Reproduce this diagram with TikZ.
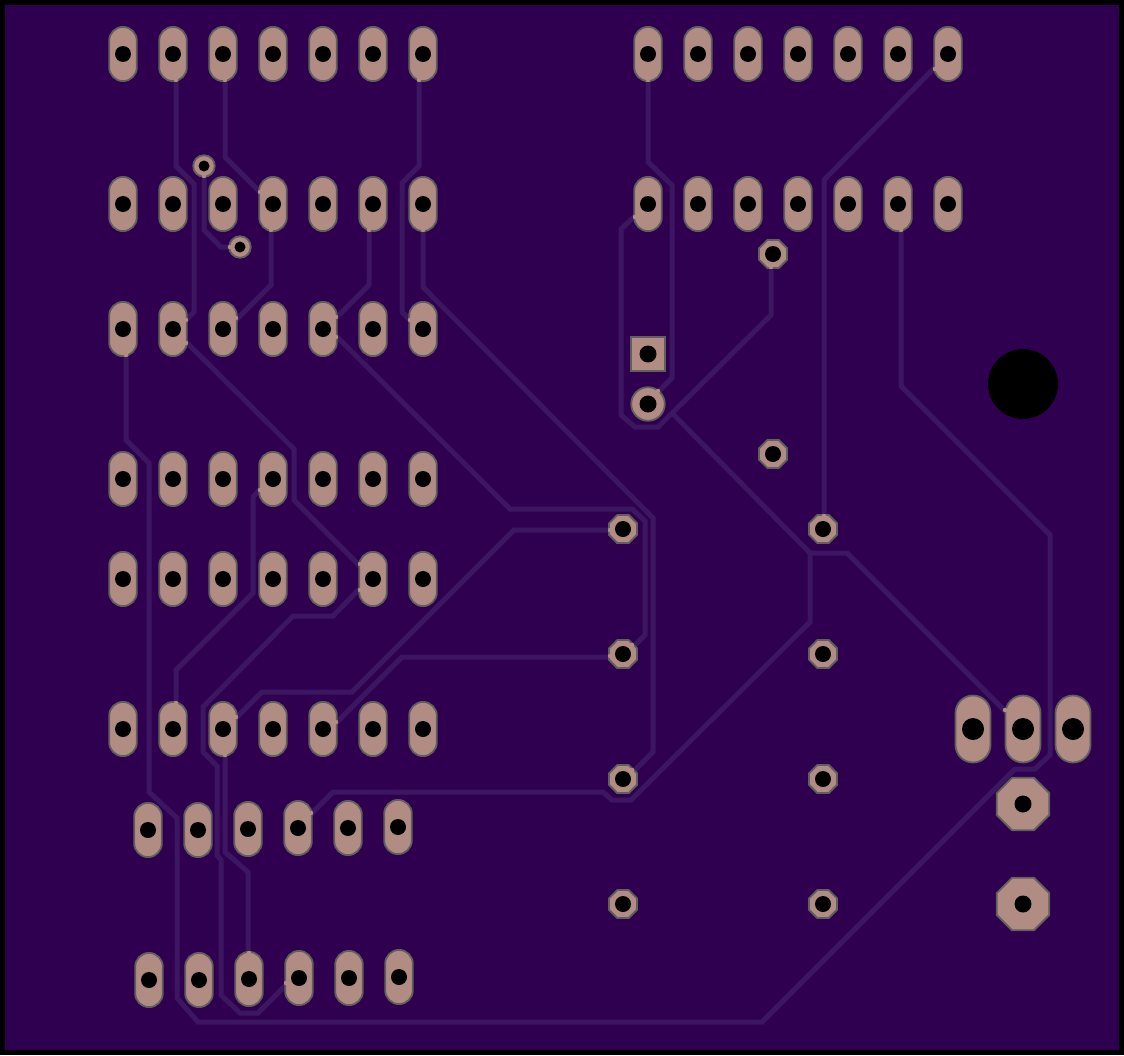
\documentclass[tikz,border=0pt]{standalone}
\usetikzlibrary{shapes.geometric}
\definecolor{boardbg}{HTML}{2F004F}
\definecolor{tracecol}{HTML}{3C1660}
\definecolor{padcol}{HTML}{B18C83}
\definecolor{padedge}{HTML}{615F5C}
\tikzset{
  trace/.style={draw=tracecol,line width=5pt,line join=miter,line cap=round},
  padbase/.style={draw=padedge,fill=padcol,line width=1.8pt,inner sep=0pt,outer sep=0pt},
  oblong/.style={padbase,rectangle,minimum width=27.6pt,minimum height=54.2pt,rounded corners=13.8pt},
  bigoblong/.style={padbase,rectangle,minimum width=35pt,minimum height=67pt,rounded corners=17.5pt},
  octvia/.style={padbase,regular polygon,regular polygon sides=8,minimum size=30.2pt},
  bigoct/.style={padbase,regular polygon,regular polygon sides=8,minimum size=57pt},
  roundvia/.style={padbase,circle,minimum size=21.5pt},
  roundpad/.style={padbase,circle,minimum size=33.5pt},
  squarepad/.style={padbase,rectangle,minimum size=33.5pt},
  hole/.style={fill=black,draw=none,circle,inner sep=0pt,minimum size=#1}
}
\newcommand{\mypad}[4]{%
  \node[#1] (#2) at (#3) {};
  \node[hole=#4] at (#2.center) {};}
\begin{document}
\begin{tikzpicture}[x=1pt,y=-1pt]
\useasboundingbox (0,0) rectangle (1124,1055);
\fill[boardbg] (0,0) rectangle (1124,1055);

% traces
\draw[trace] (176,54) -- (176,166) -- (194,184) -- (194,312) -- (173,333);
\draw[trace] (225,54) -- (225,157) -- (273,205);
\draw[trace] (204,166) -- (204,230) -- (221,247) -- (240,247);
\draw[trace] (271,204) -- (271,285) -- (223,333);
\draw[trace] (369,204) -- (369,285) -- (323,331);
\draw[trace] (419,54) -- (419,166) -- (402,183) -- (402,312) -- (419,329);
\draw[trace] (423,204) -- (423,287) -- (653,518) -- (653,752) -- (623,782);
\draw[trace] (323,323) -- (510,509) -- (632,509) -- (645,521) -- (645,635) -- (623,657);
\draw[trace] (173,329) -- (294,449) -- (294,500) -- (373,579);
\draw[trace] (126,329) -- (126,440) -- (149,463) -- (149,792) -- (177,818) -- (177,998) -- (198,1022) -- (762,1022) -- (1015,769) -- (1035,769) -- (1050,755) -- (1050,535) -- (901,386) -- (901,204);
\draw[trace] (273,475) -- (253,497) -- (253,593) -- (176,670) -- (176,729);
\draw[trace] (373,575) -- (333,616) -- (293,616) -- (203,707) -- (203,752) -- (217,766) -- (217,855) -- (221,860) -- (221,995) -- (240,1013) -- (258,1013) -- (299,972);
\draw[trace] (225,729) -- (225,852) -- (248,872) -- (248,979);
\draw[trace] (223,731) -- (262,692) -- (352,692) -- (514,530) -- (623,530);
\draw[trace] (323,736) -- (402,657) -- (623,657);
\draw[trace] (298,827) -- (333,792) -- (603,792) -- (612,800) -- (631,800) -- (810,622) -- (810,553) -- (847,553) -- (1023,729);
\draw[trace] (773,254) -- (771,254) -- (771,315) -- (658,427) -- (635,427) -- (621,415) -- (621,229) -- (648,204);
\draw[trace] (672,413) -- (810,553);
\draw[trace] (648,54) -- (648,162) -- (672,185) -- (672,378) -- (648,402);
\draw[trace] (948,54) -- (824,180) -- (824,529);

% mounting hole
\node[hole=70pt] (mount) at (1023,384) {};

% through-hole oblong pads, left block
\foreach \r/\y in {a/54,b/204,c/329,d/479,e/579,f/729}{
  \foreach \i/\x in {1/123,2/173,3/223,4/273,5/323,6/373,7/423}{
    \mypad{oblong}{\r\i}{\x,\y}{16pt}
  }
}
% right headers
\foreach \r/\y in {r/54,s/204}{
  \foreach \i/\x in {1/648,2/698,3/748,4/798,5/848,6/898,7/948}{
    \mypad{oblong}{\r\i}{\x,\y}{16pt}
  }
}
% lower sockets
\foreach \i/\x/\y in {1/148/830,2/198/830,3/248/829,4/298/828,5/348/828,6/398/827}{
  \mypad{oblong}{g\i}{\x,\y}{16pt}
}
\foreach \i/\x/\y in {1/149/980,2/199/980,3/249/979,4/299/978,5/349/978,6/399/977}{
  \mypad{oblong}{h\i}{\x,\y}{16pt}
}
% small vias
\mypad{roundvia}{v1}{204,166}{11pt}
\mypad{roundvia}{v2}{240,247}{11pt}
% capacitor
\mypad{squarepad}{c1p}{648,354}{17pt}
\mypad{roundpad}{c1n}{648,404}{17pt}
% octagonal vias
\foreach \n/\x/\y in {o1/773/254,o2/773/454,o3/623/529,o4/623/654,o5/623/779,o6/623/904,o7/823/529,o8/823/654,o9/823/779,o10/823/904}{
  \mypad{octvia}{\n}{\x,\y}{16pt}
}
% connector
\foreach \n/\x in {k1/973,k2/1023,k3/1073}{
  \mypad{bigoblong}{\n}{\x,729}{22pt}
}
\mypad{bigoct}{q1}{1023,804}{17pt}
\mypad{bigoct}{q2}{1023,904}{17pt}

% copper joins where a trace meets a pad
\foreach \x/\y in {176/80,225/80,419/80,260/192,271/230,369/230,423/230,126/355,186/320,186/343,236/318,336/317,336/337,410/320,260/490,360/564,360/590,176/703,236/717,225/755,336/722,311/813,249/953,286/983,635/217,901/230,935/69,648/80,771/267,204/176,230/247,610/530,610/656,632/645,632/770,824/516,658/391,1005/710}{
  \fill[padcol] (\x,\y) circle (2.2pt);
}

% board outline
\draw[black,line width=4.6pt] (2.3,2.3) rectangle (1121.7,1052.7);
\end{tikzpicture}
\end{document}
